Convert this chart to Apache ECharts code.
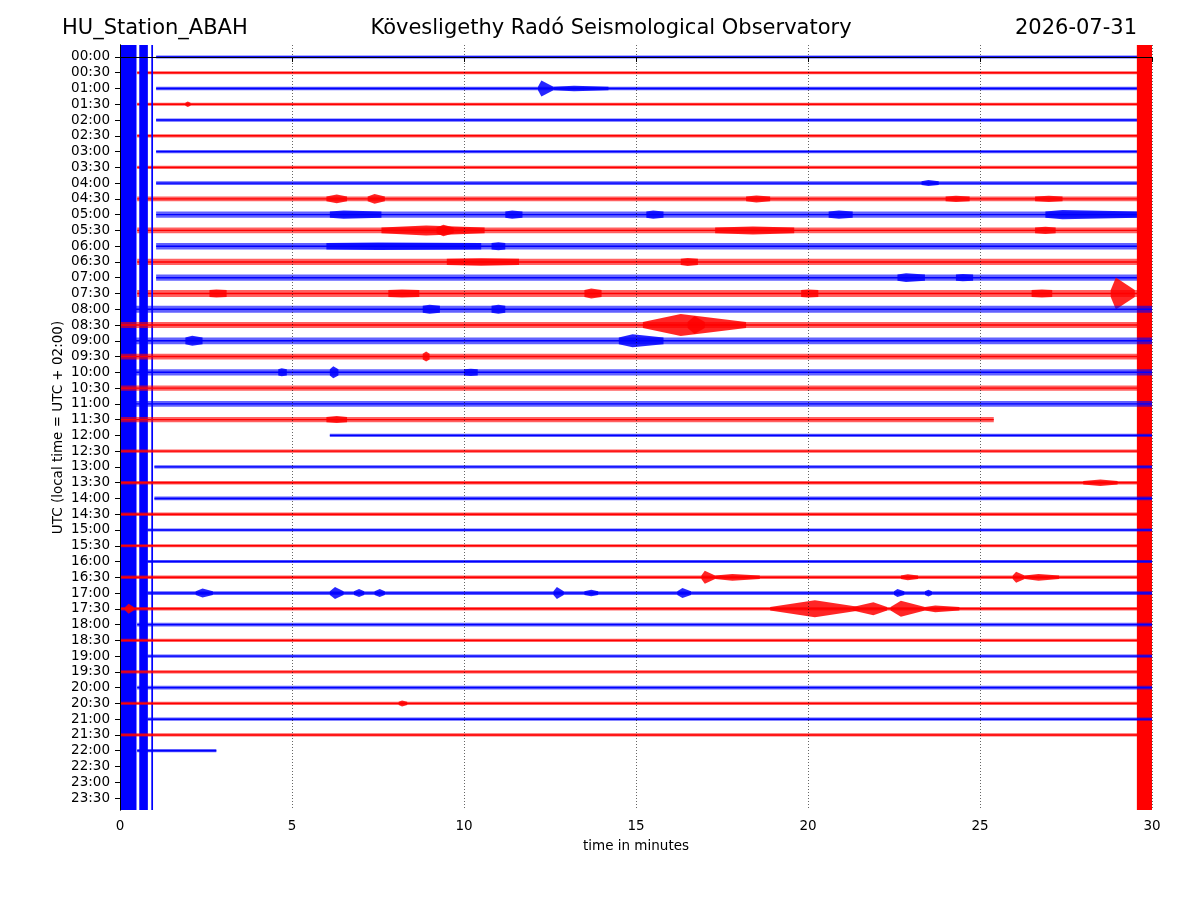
<!DOCTYPE html>
<html>
<head>
<meta charset="utf-8">
<title>HU_Station_ABAH helicorder</title>
<script src="https://cdn.jsdelivr.net/npm/echarts@6/dist/echarts.min.js"></script>
<style>
html, body { margin: 0; padding: 0; background: #fff; }
#chart { width: 1200px; height: 900px; }
</style>
</head>
<body>
<div id="chart"></div>
<script>
// one trace every 30 minutes, 30 minutes long
var rowLabels = ['00:00','00:30','01:00','01:30','02:00','02:30','03:00','03:30',
  '04:00','04:30','05:00','05:30','06:00','06:30','07:00','07:30',
  '08:00','08:30','09:00','09:30','10:00','10:30','11:00','11:30',
  '12:00','12:30','13:00','13:30','14:00','14:30','15:00','15:30',
  '16:00','16:30','17:00','17:30','18:00','18:30','19:00','19:30',
  '20:00','20:30','21:00','21:30','22:00','22:30','23:00','23:30'];

// first and last minute with data in each trace (null = no data)
var traceStart = [1.05,0.5,1.05,0.5,1.05,0.5,1.05,0.5, 1.05,0.5,1.05,0.5,1.05,0.5,1.05,0.5,
  0,0,0,0,0,0,0,0, 6.1,0,1.0,0,1.0,0,0.8,0,
  0.8,0,0.8,0,0.5,0,0.8,0, 0.5,0,0.8,0,0.5,null,null,null];
var traceEnd = [29.6,30,29.6,30,29.6,30,29.6,30, 29.6,30,29.6,30,29.6,30,29.6,30,
  30,30,30,30,30,30,30,25.4, 30,30,30,30,30,30,30,30,
  30,30,30,30,30,30,30,30, 30,30,30,30,2.8,null,null,null];

// background noise, half amplitude in counts
var noiseLevel = [1.6,1.6,1.7,1.5,1.6,1.6,1.6,1.6, 1.8,2.4,3.2,2.9,3.2,3.1,3.1,3.4,
  3.4,3.1,3.4,2.9,3.1,2.7,2.9,2.7, 1.6,1.7,1.7,1.7,1.9,1.7,1.5,1.6,
  1.6,1.7,1.9,1.8,1.8,1.7,1.6,1.6, 1.8,1.7,1.6,1.6,1.6,0,0,0];

// events: [row, start min, peak min, end min, peak half amplitude in counts]
var events = [
  [2, 12.15, 12.25, 12.6, 8], [2, 12.6, 13.2, 14.2, 2.8],
  [3, 1.9, 1.97, 2.05, 2.8],
  [8, 23.3, 23.5, 23.8, 3],
  [9, 6.0, 6.3, 6.6, 4.5], [9, 7.2, 7.4, 7.7, 5], [9, 18.2, 18.5, 18.9, 3.5], [9, 24.0, 24.3, 24.7, 3.2], [9, 26.6, 27.0, 27.4, 3.2],
  [10, 6.1, 6.5, 7.6, 4.2], [10, 11.2, 11.4, 11.7, 4.2], [10, 15.3, 15.5, 15.8, 4.2], [10, 20.6, 20.9, 21.3, 4.2], [10, 26.9, 27.4, 29.6, 4.6],
  [11, 7.6, 8.9, 10.6, 5], [11, 9.2, 9.4, 9.7, 5.8], [11, 17.3, 18.4, 19.6, 4], [11, 26.6, 26.9, 27.2, 3.6],
  [12, 6.0, 7.5, 10.5, 3.8], [12, 10.8, 11.0, 11.2, 4],
  [13, 9.5, 10.5, 11.6, 3.8], [13, 16.3, 16.5, 16.8, 4],
  [14, 22.6, 22.85, 23.4, 4.4], [14, 24.3, 24.5, 24.8, 3.6],
  [15, 2.6, 2.8, 3.1, 4], [15, 7.8, 8.2, 8.7, 4], [15, 13.5, 13.7, 14.0, 5], [15, 19.8, 20.0, 20.3, 4],
  [15, 26.5, 26.8, 27.1, 4], [15, 28.8, 28.95, 29.5, 16],
  [16, 8.8, 9.0, 9.3, 4.6], [16, 10.8, 11.0, 11.2, 4.6],
  [17, 15.2, 16.3, 18.2, 11], [17, 16.5, 16.7, 17.0, 9],
  [18, 1.9, 2.1, 2.4, 5], [18, 14.5, 14.9, 15.8, 6.5],
  [19, 8.8, 8.9, 9.0, 5],
  [20, 4.6, 4.7, 4.85, 4], [20, 6.1, 6.2, 6.35, 6], [20, 10.0, 10.2, 10.4, 3.6],
  [23, 6.0, 6.3, 6.6, 3.5],
  [27, 28.0, 28.5, 29.0, 3.2],
  [33, 16.9, 17.0, 17.3, 6.5], [33, 17.3, 17.8, 18.6, 3.4], [33, 22.7, 22.9, 23.2, 3], [33, 25.95, 26.05, 26.3, 5.5], [33, 26.3, 26.7, 27.3, 3.4],
  [34, 2.2, 2.4, 2.7, 4.5], [34, 6.1, 6.25, 6.5, 6], [34, 6.8, 6.95, 7.1, 4], [34, 7.4, 7.55, 7.7, 4], [34, 12.6, 12.7, 12.9, 6],
  [34, 13.5, 13.7, 13.9, 3.2], [34, 16.2, 16.35, 16.6, 5], [34, 22.5, 22.6, 22.8, 4], [34, 23.4, 23.5, 23.6, 3.4],
  [35, 0.15, 0.25, 0.4, 5], [35, 18.9, 20.2, 21.5, 8.5], [35, 21.3, 21.9, 22.3, 6.5], [35, 22.4, 22.7, 23.4, 8], [35, 23.4, 23.7, 24.4, 3.4],
  [41, 8.1, 8.2, 8.35, 3]
];

// clipped (off scale) stretches: [row, start min, end min]
var saturated = [
  [15, 29.56, 30.0],
  [16, 0.0, 0.48], [16, 0.56, 0.81], [16, 0.91, 0.96]
];

var countsPerRow = 15.8;
var xTicks = [0, 5, 10, 15, 20, 25, 30];
var rowValues = rowLabels.map(function (l, i) { return i; });

var chart = echarts.init(document.getElementById('chart'));

function traceColor(r, a) {
  return r % 2 === 0 ? 'rgba(0,0,255,' + a + ')' : 'rgba(255,0,0,' + a + ')';
}

function renderTrace(params, api) {
  var s = api.value(0), r = api.value(1), e = api.value(2);
  var cs = params.coordSys;
  var n = noiseLevel[r] / countsPerRow;
  var kids = [];
  var p1 = api.coord([s, r - n]), p2 = api.coord([e, r + n]);
  kids.push({ type: 'rect', z2: r * 4,
    shape: { x: p1[0], y: p1[1], width: p2[0] - p1[0], height: p2[1] - p1[1] },
    style: { fill: traceColor(r, 0.62) } });
  var c1 = api.coord([s, r]), c2 = api.coord([e, r]);
  kids.push({ type: 'line', z2: r * 4 + 1,
    shape: { x1: c1[0], y1: c1[1], x2: c2[0], y2: c2[1] },
    style: { stroke: traceColor(r, 1), lineWidth: 1.4 } });
  events.forEach(function (ev) {
    if (ev[0] !== r) return;
    var a = ev[4] / countsPerRow;
    var pts = [[ev[1], r - n], [ev[2], r - a], [ev[3], r - n],
               [ev[3], r + n], [ev[2], r + a], [ev[1], r + n]].map(function (p) { return api.coord(p); });
    kids.push({ type: 'polygon', z2: r * 4 + 2, shape: { points: pts },
      style: { fill: traceColor(r, 0.85) } });
  });
  saturated.forEach(function (sg) {
    if (sg[0] !== r) return;
    var a = api.coord([sg[1], r]), b = api.coord([sg[2], r]);
    kids.push({ type: 'rect', z2: r * 4 + 3,
      shape: { x: a[0], y: cs.y, width: b[0] - a[0], height: cs.height },
      style: { fill: traceColor(r, 1) } });
  });
  return { type: 'group', children: kids };
}

var traceData = [];
rowValues.forEach(function (i) {
  if (traceStart[i] !== null) traceData.push([traceStart[i], i, traceEnd[i]]);
});

var font = 'DejaVu Sans';
var yMin = -0.76, yMax = 47.76;

option = {
  animation: false,
  backgroundColor: '#fff',
  textStyle: { fontFamily: font },
  grid: { left: 120, right: 48, top: 45, bottom: 90 },
  graphic: [
    { type: 'text', x: 62, y: 29, style: { text: 'HU_Station_ABAH', font: '21px "DejaVu Sans"', fill: '#000', textAlign: 'left', textVerticalAlign: 'middle' } },
    { type: 'text', x: 611, y: 29, style: { text: 'Kövesligethy Radó Seismological Observatory', font: '21px "DejaVu Sans"', fill: '#000', textAlign: 'center', textVerticalAlign: 'middle' } },
    { type: 'text', x: 1137, y: 29, style: { text: '2026-07-31', font: '21px "DejaVu Sans"', fill: '#000', textAlign: 'right', textVerticalAlign: 'middle' } }
  ],
  xAxis: [{
    type: 'value', min: 0, max: 30, interval: 5, z: 10,
    name: 'time in minutes', nameLocation: 'middle', nameGap: 29,
    nameTextStyle: { fontFamily: font, fontSize: 13.5, color: '#000' },
    axisLine: { show: true, lineStyle: { color: '#000', width: 1 } },
    axisTick: { show: true, length: 5, lineStyle: { color: '#000' } },
    axisLabel: { fontFamily: font, fontSize: 13.5, color: '#000', margin: 9,
      formatter: function (v) { return xTicks.indexOf(v) >= 0 ? String(v) : ''; } },
    splitLine: { show: true, lineStyle: { color: '#000', width: 0.6, type: [1, 2] } }
  }, {
    type: 'value', position: 'top', min: 0, max: 30, z: 10,
    axisLine: { show: true, lineStyle: { color: '#000', width: 1 } },
    axisTick: { show: false }, axisLabel: { show: false }, splitLine: { show: false }
  }],
  yAxis: [{
    type: 'value', inverse: true, min: yMin, max: yMax, z: 10,
    name: 'UTC (local time = UTC + 02:00)', nameLocation: 'middle', nameGap: 55, nameMoveOverlap: false,
    nameTextStyle: { fontFamily: font, fontSize: 13.5, color: '#000' },
    axisLine: { show: true, lineStyle: { color: '#000', width: 1 } },
    axisTick: { show: true, length: 5, customValues: rowValues, lineStyle: { color: '#000' } },
    axisLabel: { fontFamily: font, fontSize: 13.5, color: '#000', margin: 10, customValues: rowValues,
      formatter: function (v) { return rowLabels[Math.round(v)]; } },
    splitLine: { show: false }
  }, {
    type: 'value', position: 'right', inverse: true, min: yMin, max: yMax, z: 10,
    axisLine: { show: true, lineStyle: { color: '#000', width: 1 } },
    axisTick: { show: false }, axisLabel: { show: false }, splitLine: { show: false }
  }],
  series: [{
    type: 'custom',
    name: 'traces',
    clip: true,
    silent: true,
    encode: { x: [0, 2], y: 1 },
    data: traceData,
    renderItem: renderTrace
  }]
};

chart.setOption(option);
</script>
</body>
</html>
